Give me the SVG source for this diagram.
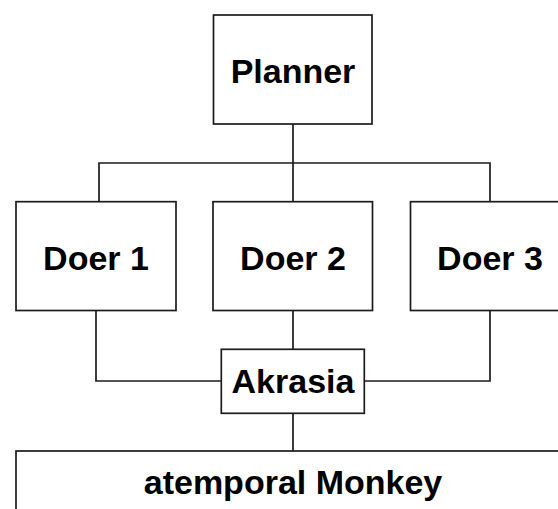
<svg xmlns="http://www.w3.org/2000/svg" width="558" height="509" viewBox="0 0 558 509">
  <style>
    .box { fill: #ffffff; stroke: #1c1c1c; stroke-width: 1.7; }
    .wire { fill: none; stroke: #1c1c1c; stroke-width: 1.7; }
    .label { font-family: "Liberation Sans", Arial, Helvetica, sans-serif; font-weight: bold; font-size: 34px; fill: #000000; text-anchor: middle; }
  </style>
  <rect width="558" height="509" fill="#ffffff"/>

  <!-- connectors -->
  <g id="connectors">
    <!-- Planner down to the bus, bus out to each doer -->
    <path class="wire" d="M293 124 V163"/>
    <path class="wire" d="M99 201.7 V163 H490 V201.7"/>
    <path class="wire" d="M293 163 V201.7"/>
    <!-- doers into Akrasia -->
    <path class="wire" d="M96 310.5 V381 H221.3"/>
    <path class="wire" d="M293 310.5 V349.3"/>
    <path class="wire" d="M490 310.5 V381 H364.3"/>
    <!-- Akrasia down to the monkey -->
    <path class="wire" d="M293 413.3 V451"/>
  </g>

  <g id="planner">
    <rect class="box" x="213.5" y="15" width="158.5" height="109"/>
    <text class="label" x="293" y="82.7">Planner</text>
  </g>

  <g id="doer1">
    <rect class="box" x="16" y="201.7" width="160" height="108.8"/>
    <text class="label" x="96" y="270">Doer 1</text>
  </g>

  <g id="doer2">
    <rect class="box" x="213" y="201.7" width="159.5" height="108.8"/>
    <text class="label" x="293" y="270">Doer 2</text>
  </g>

  <g id="doer3">
    <rect class="box" x="410.5" y="201.7" width="160" height="108.8"/>
    <text class="label" x="490" y="270">Doer 3</text>
  </g>

  <g id="akrasia">
    <rect class="box" x="221.3" y="349.3" width="143" height="64"/>
    <text class="label" x="293" y="393.3">Akrasia</text>
  </g>

  <g id="monkey">
    <rect class="box" x="16" y="451" width="560" height="80"/>
    <text class="label" x="293" y="494">atemporal Monkey</text>
  </g>
</svg>
